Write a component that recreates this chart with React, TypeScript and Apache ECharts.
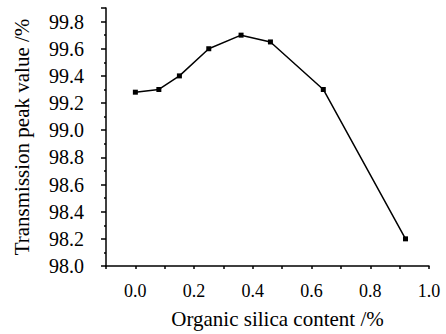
import React, { useEffect, useRef } from "react";
import * as echarts from "echarts";

const xValues = [0.0, 0.08, 0.15, 0.25, 0.36, 0.46, 0.64, 0.92];
const yValues = [99.28, 99.3, 99.4, 99.6, 99.7, 99.65, 99.3, 98.2];
const xTitle = "Organic silica content /%";
const yTitle = "Transmission peak value /%";

export default function App() {
  const ref = useRef<HTMLDivElement>(null);
  useEffect(() => {
    if (!ref.current) return;
    const chart = echarts.init(ref.current, undefined, { renderer: "svg" });
    const font = "Liberation Serif";
    chart.setOption({
      animation: false,
      backgroundColor: "#fff",
      textStyle: { fontFamily: font },
      grid: { left: 106, right: 17, top: 8, bottom: 62 },
      xAxis: {
        type: "value",
        min: -0.1,
        max: 1.0,
        interval: 0.1,
        name: xTitle,
        nameLocation: "middle",
        nameGap: 42,
        nameTextStyle: { fontFamily: font, fontSize: 21, color: "#000", padding: [0, 0, 0, 20] },
        axisLine: { show: true, onZero: false, lineStyle: { color: "#000", width: 1.5 } },
        axisTick: { show: true, length: 3, lineStyle: { color: "#000", width: 1.5 } },
        splitLine: { show: false },
        axisLabel: {
          fontFamily: font,
          fontSize: 18,
          color: "#000",
          margin: 16,
          formatter: (v: number) => {
            const t = Math.round(v * 10);
            return t >= 0 && t % 2 === 0 ? (t / 10).toFixed(1) : "";
          },
        },
      },
      yAxis: {
        type: "value",
        min: 98.0,
        max: 99.9,
        interval: 0.2,
        name: yTitle,
        nameLocation: "middle",
        nameGap: 74,
        nameTextStyle: { fontFamily: font, fontSize: 21, color: "#000" },
        axisLine: { show: true, onZero: false, lineStyle: { color: "#000", width: 1.5 } },
        axisTick: { show: true, length: 5, lineStyle: { color: "#000", width: 1.5 } },
        minorTick: { show: true, splitNumber: 2, length: 2, lineStyle: { color: "#000", width: 1.5 } },
        splitLine: { show: false },
        minorSplitLine: { show: false },
        axisLabel: {
          fontFamily: font,
          fontSize: 20,
          color: "#000",
          margin: 22,
          showMaxLabel: false,
          formatter: (v: number) => v.toFixed(1),
        },
      },
      series: [
        {
          type: "line",
          data: xValues.map((x, i) => [x, yValues[i]]),
          symbol: "rect",
          symbolSize: 5,
          itemStyle: { color: "#000" },
          lineStyle: { color: "#000", width: 1.5 },
        },
      ],
    });
    return () => chart.dispose();
  }, []);
  return <div ref={ref} style={{ width: 446, height: 334, position: "absolute", left: 0, top: 0 }} />;
}
